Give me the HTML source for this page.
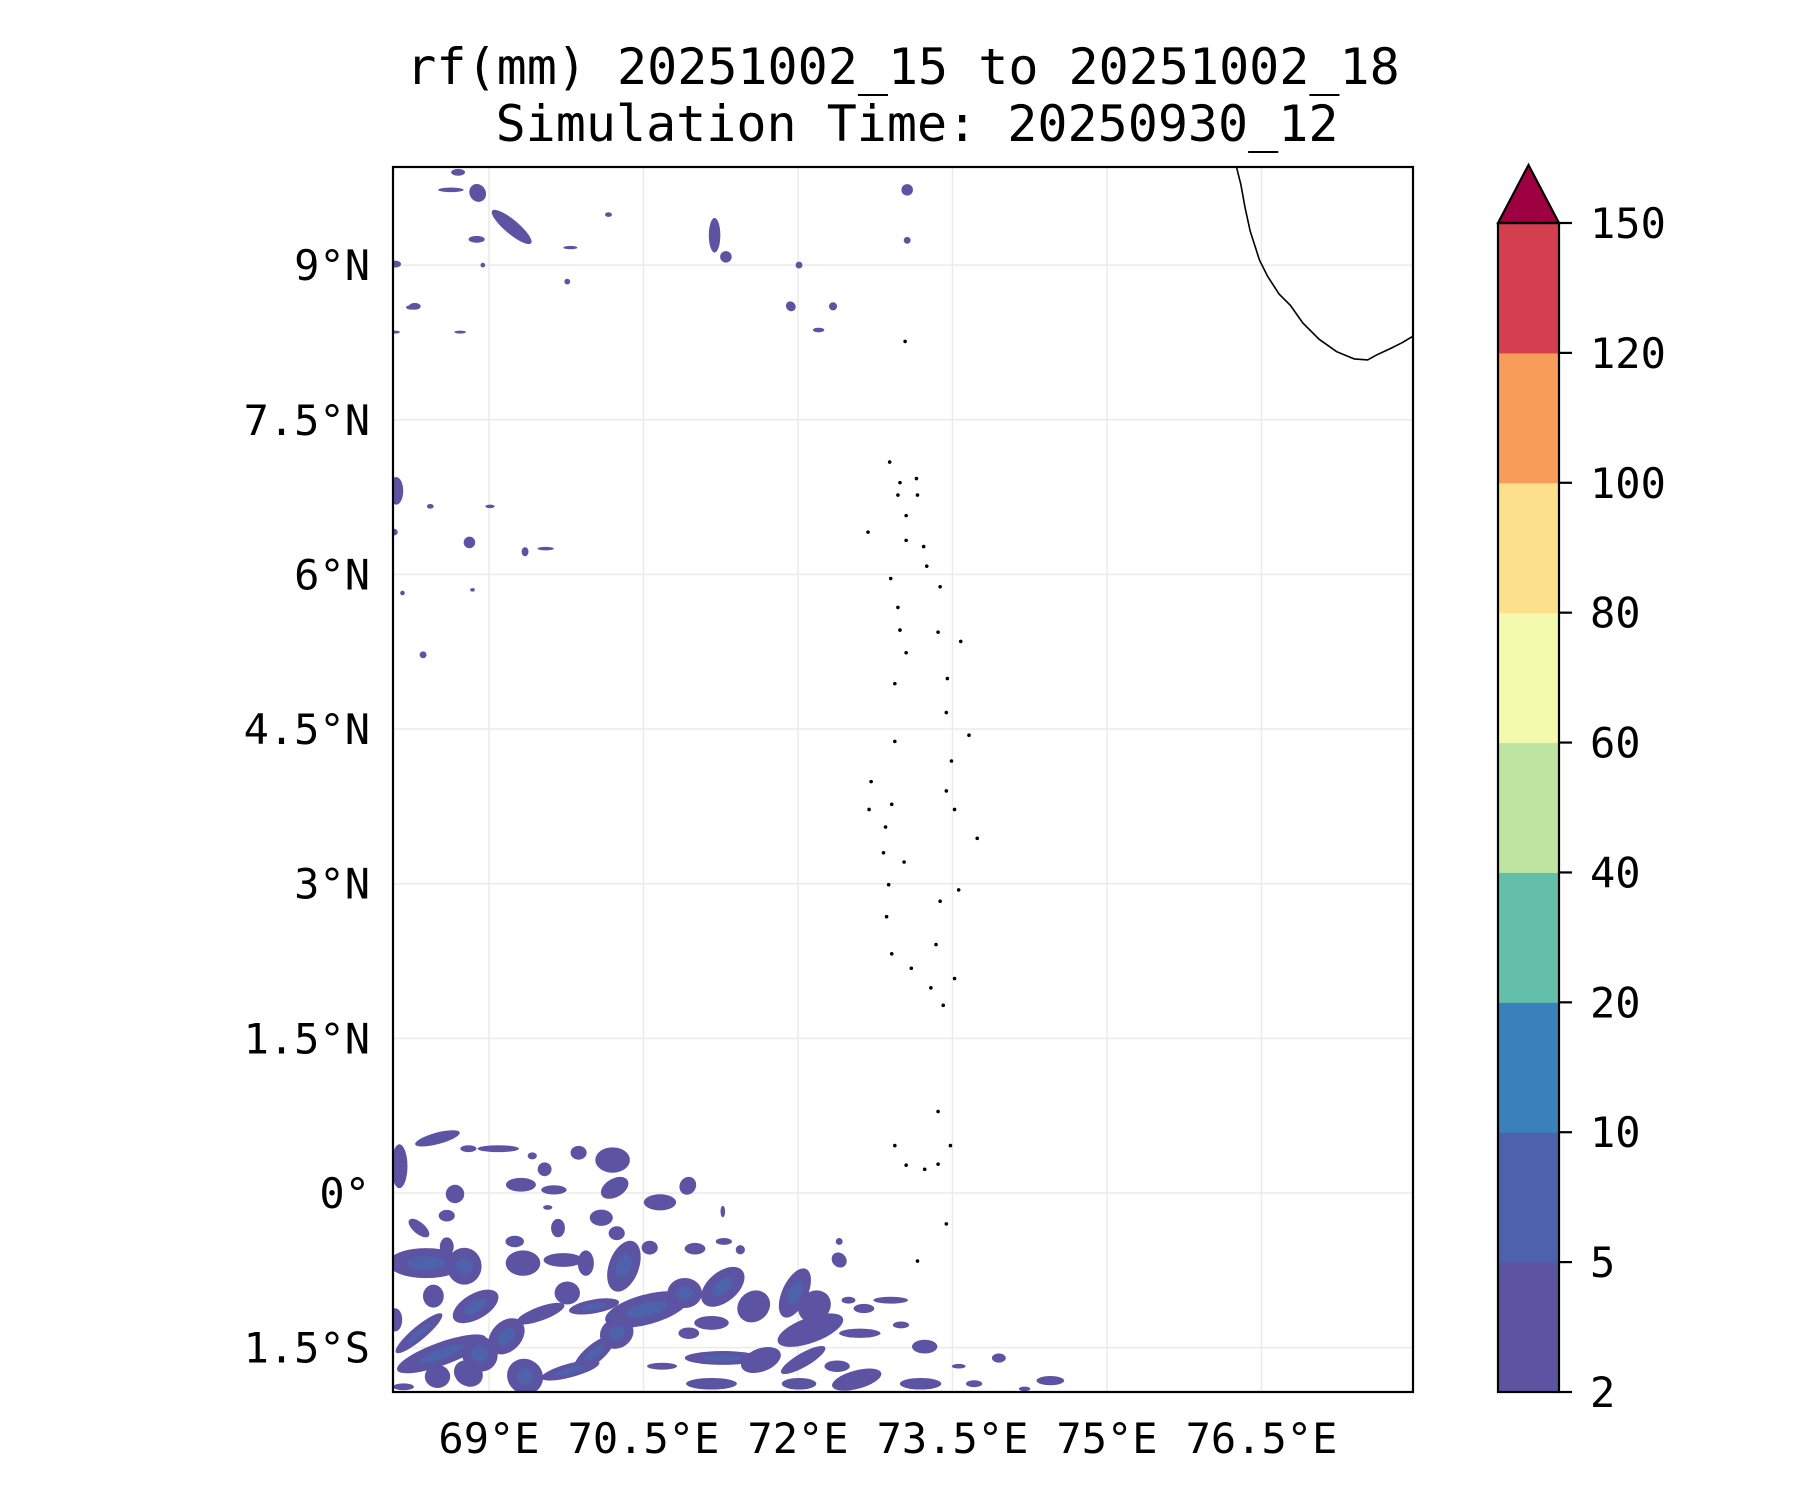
<!DOCTYPE html>
<html><head><meta charset="utf-8"><style>
html,body{margin:0;padding:0;background:#fff;}
svg{display:block;font-family:"DejaVu Sans Mono","Liberation Mono",monospace;}
</style></head><body>
<svg id="fig" width="1800" height="1500" viewBox="0 0 1800 1500">
<text x="903" y="84" font-size="50" text-anchor="middle">rf(mm) 20251002_15 to 20251002_18</text>
<text x="917" y="141" font-size="50" text-anchor="middle">Simulation Time: 20250930_12</text>
<defs><clipPath id="clip"><rect x="393" y="167" width="1020" height="1225"/></clipPath></defs>
<g id="grid"></g>
<g id="rain" clip-path="url(#clip)"></g>
<g id="coast" clip-path="url(#clip)"></g>
<rect x="393" y="167" width="1020" height="1225" fill="none" stroke="#000" stroke-width="2.2"/>
<g id="xt"></g>
<g id="yt"></g>
<g id="cbar"></g>
</svg>
<script>
const lonTicks=[69,70.5,72,73.5,75,76.5];
const lonLabels=["69°E","70.5°E","72°E","73.5°E","75°E","76.5°E"];
const latTicks=[9,7.5,6,4.5,3,1.5,0,-1.5];
const latLabels=["9°N","7.5°N","6°N","4.5°N","3°N","1.5°N","0°","1.5°S"];
const levels=[2,5,10,20,40,60,80,100,120,150];
const levelColors=["#5c53a3","#4e62ab","#3a80b9","#63bfaa","#bde4a0","#f4faad","#fce08b","#f89c59","#d53e4f"];
const extendColor="#9e0142";
const cellLon=[68.13,68.50,68.80,69.09,69.42,69.54,69.87,70.20,69.31,69.63,70.22,68.67,68.59,68.32,69.57,69.67,70.09,70.24,70.66,70.93,71.27,69.25,68.59,70.56,71.00,71.28,71.44,
68.39,68.76,69.33,69.72,69.94,70.31,68.32,68.87,69.50,70.02,70.53,71.27,70.90,68.46,68.09,68.54,69.17,68.91,69.76,70.02,70.24,69.79,68.80,69.35,70.68,71.27,71.64,
71.97,72.16,71.57,71.16,70.94,72.12,72.60,72.38,72.05,72.57,73.23,73.19,72.90,72.49,72.64,72.40,73.00,73.56,73.71,71.16,72.01,68.50,68.17,72.40,73.95,74.45,74.20,
68.70,68.63,68.89,69.22,68.88,69.79,70.16,71.19,71.30,73.06,73.06,72.01,68.09,68.94,69.76,68.28,71.93,72.34,72.20,
68.10,68.07,68.43,69.01,68.81,69.35,69.55,68.36,68.16,68.84,68.25,68.72,68.09];
const cellLat=[0.26,0.53,0.43,0.43,0.36,0.23,0.39,0.32,0.08,0.03,0.05,-0.01,-0.22,-0.34,-0.14,-0.34,-0.24,-0.39,-0.09,0.07,-0.18,-0.47,-0.52,-0.53,-0.54,-0.47,-0.55,
-0.68,-0.71,-0.68,-0.65,-0.68,-0.71,-1.36,-1.10,-1.17,-1.10,-1.13,-0.91,-0.97,-1.00,-1.23,-1.56,-1.39,-1.56,-0.97,-1.56,-1.36,-1.72,-1.75,-1.78,-1.68,-1.60,-1.62,
-0.97,-1.10,-1.10,-1.26,-1.36,-1.33,-1.36,-1.68,-1.62,-1.81,-1.49,-1.85,-1.04,-1.04,-1.12,-0.65,-1.28,-1.68,-1.85,-1.85,-1.85,-1.78,-1.88,-0.47,-1.60,-1.82,-1.90,
9.90,9.73,9.70,9.37,9.25,9.17,9.49,9.29,9.08,9.73,9.24,9.00,9.01,9.00,8.84,8.60,8.60,8.60,8.37,
6.81,6.41,6.66,6.66,6.31,6.22,6.25,5.22,5.82,5.85,8.59,8.35,8.35];
const cellRx=[.07,.20,.07,.18,.04,.06,.07,.15,.13,.11,.13,.08,.07,.11,.04,.06,.10,.07,.14,.07,.02,.08,.06,.07,.09,.07,.04,
.33,.15,.15,.17,.07,.13,.26,.22,.22,.22,.37,.22,.15,.09,.06,.41,.18,.15,.11,.22,.15,.26,.11,.15,.13,.33,.18,
.11,.15,.15,.15,.09,.30,.18,.11,.22,.22,.11,.18,.15,.06,.09,.07,.07,.06,.07,.22,.15,.11,.09,.03,.06,.12,.05,
.06,.11,.07,.22,.07,.06,.03,.05,.05,.05,.03,.03,.05,.02,.025,.05,.045,.035,.05,
.06,.04,.03,.04,.05,.03,.07,.03,.02,.02,.05,.05,.04];
const cellRy=[.19,.05,.03,.03,.03,.06,.06,.11,.06,.04,.08,.08,.05,.05,.02,.08,.07,.06,.07,.08,.05,.05,.08,.06,.05,.03,.04,
.13,.16,.11,.06,.11,.23,.06,.11,.06,.06,.13,.13,.13,.10,.10,.10,.13,.16,.10,.08,.13,.06,.13,.16,.03,.06,.10,
.23,.13,.13,.06,.05,.11,.04,.05,.06,.08,.06,.05,.03,.03,.04,.06,.03,.02,.03,.05,.05,.10,.03,.03,.04,.04,.02,
.03,.02,.08,.06,.03,.015,.02,.15,.05,.05,.03,.03,.03,.02,.025,.03,.04,.035,.02,
.12,.03,.02,.015,.05,.04,.015,.03,.02,.015,.02,.01,.01];
const cellRot=[0,-15,0,0,0,0,0,0,0,0,-30,0,0,40,0,0,0,0,0,30,0,0,0,0,0,0,45,
0,0,0,0,0,20,-40,-30,-20,-10,-15,-40,0,0,0,-20,-45,-50,0,-40,-30,-15,-60,-50,0,0,-20,
25,-40,-40,0,0,-20,0,0,-30,-15,0,0,0,0,0,45,0,0,0,0,0,0,0,45,0,0,0,
0,0,-30,40,0,0,0,0,45,45,45,45,0,0,0,0,45,45,0,
0,0,0,0,45,0,0,45,0,0,0,0,0];
const cellClass=[1,1,1,1,1,1,1,1,1,1,1,1,1,1,1,1,1,1,1,1,1,1,1,1,1,1,1,
2,2,1,1,1,2,2,2,1,2,2,2,2,1,1,2,2,2,1,2,2,2,1,2,1,2,1,
2,1,1,1,1,1,1,1,1,1,1,1,1,1,1,1,1,1,1,1,1,1,1,1,1,1,1,
1,1,1,1,1,1,1,1,1,1,1,1,1,1,1,1,1,1,1,
1,1,1,1,1,1,1,1,1,1,1,1,1];
const islandLon=[72.89,72.99,73.15,73.16,73.05,72.97,72.68,73.05,73.22,73.25,72.90,72.97,72.99,73.05,72.94,73.38,73.36,73.58,73.45,73.44,73.66,73.49,72.94,72.71,72.69,72.91,72.85,73.44,73.52,73.74,72.83,73.03,72.88,72.86,73.38,73.56,73.34,72.91,73.10,73.29,73.52,73.41,73.36,73.48,72.94,73.05,73.23,73.36,73.44,73.16,73.04];
const islandLat=[7.09,6.89,6.93,6.77,6.57,6.77,6.41,6.33,6.27,6.08,5.96,5.68,5.46,5.24,4.94,5.88,5.44,5.35,4.99,4.66,4.44,4.19,4.38,3.99,3.72,3.77,3.55,3.90,3.72,3.44,3.30,3.21,2.99,2.68,2.83,2.94,2.41,2.32,2.18,1.99,2.08,1.82,0.79,0.46,0.46,0.27,0.23,0.28,-0.30,-0.66,8.26];
const coastLon=[76.20,76.26,76.30,76.34,76.39,76.48,76.56,76.67,76.78,76.90,77.06,77.23,77.40,77.53,77.62,77.75,77.87,77.97,78.10];
const coastLat=[10.1,9.94,9.78,9.56,9.33,9.05,8.89,8.72,8.61,8.44,8.28,8.16,8.09,8.08,8.13,8.19,8.25,8.31,8.40];

const NS="http://www.w3.org/2000/svg";
const X0=393,X1=1413,Y0=167,Y1=1392;
function xOf(lon){return 489+(lon-69)*103.0;}
function yOf(lat){return 1193-lat*103.1;}
function mk(tag,attrs,parent){const e=document.createElementNS(NS,tag);for(const k in attrs)e.setAttribute(k,attrs[k]);parent.appendChild(e);return e;}

const grid=document.getElementById('grid');
lonTicks.forEach((v,i)=>{
  const l=mk('line',{x1:xOf(v),x2:xOf(v),y1:Y0,y2:Y1,stroke:'#ebebeb','stroke-width':1.5},grid);
  
  
  const t=mk('text',{x:xOf(v),y:1453,'font-size':42,'text-anchor':'middle'},document.getElementById('xt'));
  t.textContent=lonLabels[i];
  
  
});
latTicks.forEach((v,i)=>{
  const l=mk('line',{x1:X0,x2:X1,y1:yOf(v),y2:yOf(v),stroke:'#ebebeb','stroke-width':1.5},grid);
  
  
  const t=mk('text',{x:370,y:yOf(v)+15,'font-size':42,'text-anchor':'end'},document.getElementById('yt'));
  t.textContent=latLabels[i];
  
  
});

const rain=document.getElementById('rain');
for(let i=0;i<cellLon.length;i++){
  const cx=xOf(cellLon[i]),cy=yOf(cellLat[i]);
  const rx=Math.max(cellRx[i]*103*1.12,1.5),ry=Math.max(cellRy[i]*103*1.12,1.5);
  const e=mk('ellipse',{cx:cx,cy:cy,rx:rx,ry:ry,fill:levelColors[0],transform:'rotate('+cellRot[i]+' '+cx+' '+cy+')'},rain);
  
  
  if(cellClass[i]>=2){
    const c=mk('ellipse',{cx:cx,cy:cy,rx:rx*0.5,ry:ry*0.45,fill:levelColors[1],transform:'rotate('+cellRot[i]+' '+cx+' '+cy+')'},rain);
    
    
  }
}

const coast=document.getElementById('coast');
for(let i=0;i<islandLon.length;i++){
  const d=mk('circle',{cx:xOf(islandLon[i]),cy:yOf(islandLat[i]),r:1.8,fill:'#000'},coast);
  
  
}
const pts=coastLon.map((v,i)=>xOf(v)+','+yOf(coastLat[i])).join(' ');
const pl=mk('polyline',{points:pts,fill:'none',stroke:'#000','stroke-width':1.6},coast);



const cb=document.getElementById('cbar');
const CX0=1498,CX1=1559,CB=1392,CT=223,seg=(CB-CT)/(levels.length-1);
for(let i=0;i<levels.length-1;i++){
  const r=mk('rect',{x:CX0,y:CB-(i+1)*seg,width:CX1-CX0,height:seg+0.5,fill:levelColors[i]},cb);
  
  
}
const tri=mk('polygon',{points:CX0+','+CT+' '+CX1+','+CT+' '+((CX0+CX1)/2)+',165',fill:extendColor,stroke:'#000','stroke-width':2.2},cb);


const ol=mk('rect',{x:CX0,y:CT,width:CX1-CX0,height:CB-CT,fill:'none',stroke:'#000','stroke-width':2.2},cb);


levels.forEach((v,i)=>{
  const y=CB-i*seg;
  const tk=mk('line',{x1:CX1,x2:CX1+13,y1:y,y2:y,stroke:'#000','stroke-width':2.2},cb);
  
  
  const t=mk('text',{x:1590,y:y+15,'font-size':42},cb);
  t.textContent=v;
  
  
});
</script>
</body></html>
